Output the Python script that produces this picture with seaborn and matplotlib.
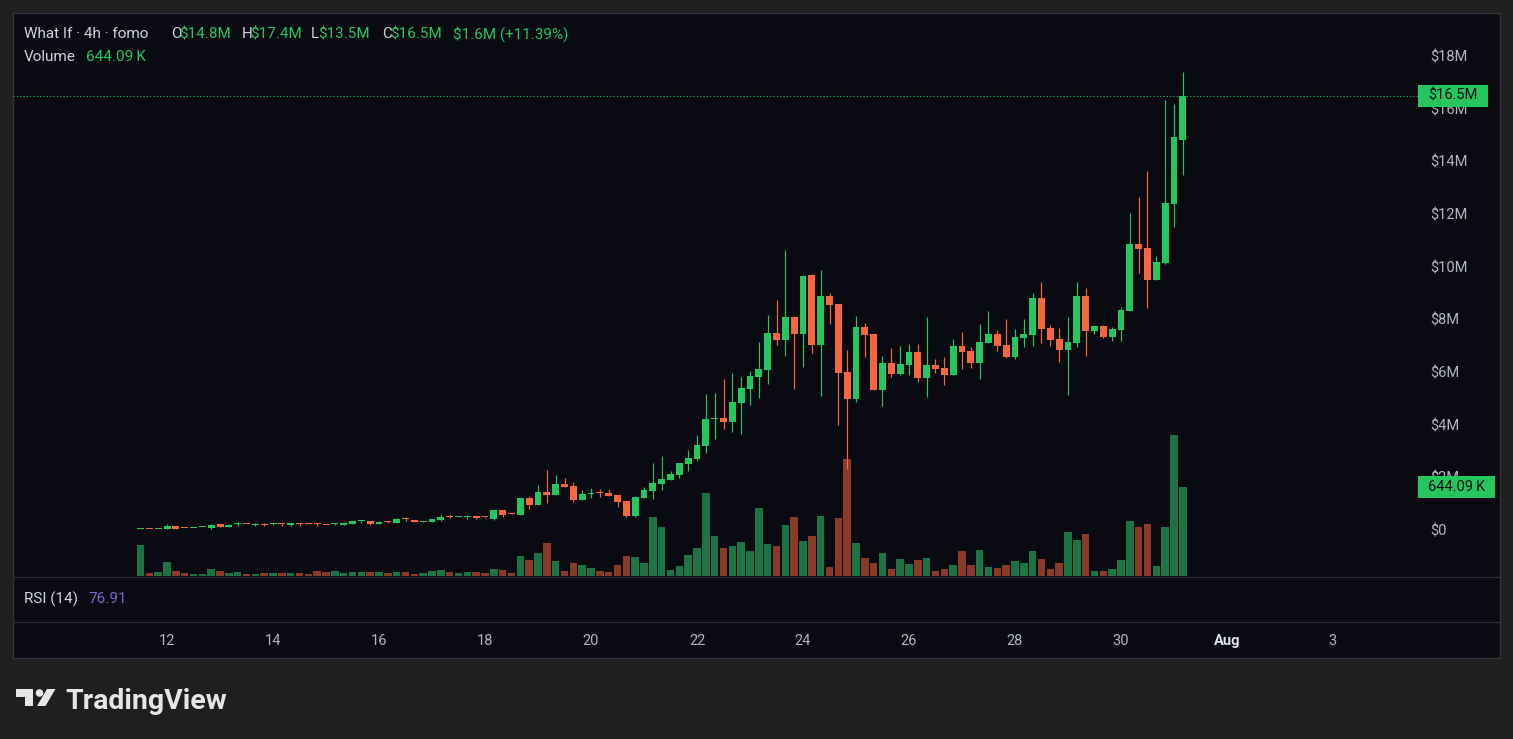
import numpy as np
import pandas as pd
import matplotlib
matplotlib.use("Agg")
import matplotlib.pyplot as plt
import seaborn as sns
from matplotlib.patches import Rectangle, Polygon, Circle

# ---------------- data ----------------
first_candle_day = 11.5          # July 11, 12:00
candle_hours = 4

opens = [
    0.035, 0.035, 0.03, 0.025, 0.152, 0.08, 0.072, 0.11, 0.089, 0.215,
    0.127, 0.235, 0.235, 0.198, 0.208, 0.222, 0.232, 0.177, 0.232, 0.232,
    0.22, 0.195, 0.222, 0.203, 0.24, 0.325, 0.329, 0.24, 0.31, 0.278,
    0.425, 0.38, 0.32, 0.316, 0.38, 0.5, 0.5, 0.5, 0.532, 0.485,
    0.418, 0.76, 0.625, 0.57, 1.228, 0.95, 1.443, 1.342, 1.747, 1.671,
    1.139, 1.38, 1.42, 1.418, 1.329, 1.089, 0.544, 1.228, 1.494, 1.76,
    1.899, 2.089, 2.519, 2.697, 3.19, 4.22, 4.266, 4.102, 4.836, 5.355,
    5.811, 6.077, 7.482, 7.216, 8.09, 7.444, 9.685, 7.026, 8.887, 8.583,
    6.001, 4.975, 7.71, 7.444, 5.317, 6.343, 5.925, 6.267, 6.76, 5.773,
    6.267, 6.153, 5.887, 6.988, 6.798, 6.343, 7.102, 7.444, 7.026, 6.57,
    7.292, 7.406, 8.811, 7.672, 7.254, 6.836, 7.102, 8.887, 7.558, 7.748,
    7.33, 7.596, 8.318, 10.862, 10.71, 9.495, 10.14, 12.381, 14.8]

highs = [
    0.05, 0.04, 0.05, 0.228, 0.165, 0.09, 0.09, 0.125, 0.24, 0.23,
    0.21, 0.304, 0.24, 0.253, 0.253, 0.253, 0.266, 0.26, 0.253, 0.24,
    0.266, 0.2, 0.266, 0.285, 0.35, 0.354, 0.335, 0.325, 0.342, 0.456,
    0.456, 0.39, 0.335, 0.425, 0.57, 0.557, 0.52, 0.57, 0.54, 0.49,
    0.77, 0.77, 0.658, 1.266, 1.291, 1.709, 2.279, 2.089, 1.962, 1.81,
    1.519, 1.582, 1.544, 1.544, 1.34, 1.1, 1.304, 1.62, 2.532, 2.81,
    2.228, 2.55, 3.038, 3.608, 5.165, 5.19, 5.735, 5.975, 5.811, 6.039,
    7.14, 8.178, 8.735, 10.634, 8.128, 9.68, 9.723, 9.875, 9.001, 8.6,
    6.836, 8.128, 7.862, 7.45, 6.608, 6.912, 6.988, 7.064, 7.064, 8.09,
    6.494, 6.57, 7.254, 7.52, 6.95, 7.824, 8.318, 7.596, 8.014, 7.634,
    8.014, 9.001, 9.419, 7.786, 7.672, 8.09, 9.419, 9.191, 7.76, 7.786,
    7.7, 8.47, 12.04, 12.647, 13.635, 10.406, 16.331, 16.179, 17.4]

lows = [
    0.03, 0.025, 0.025, 0.025, 0.04, 0.06, 0.065, 0.105, 0.051, 0.12,
    0.12, 0.165, 0.215, 0.165, 0.165, 0.177, 0.165, 0.17, 0.165, 0.215,
    0.165, 0.18, 0.19, 0.2, 0.235, 0.278, 0.203, 0.235, 0.253, 0.27,
    0.354, 0.29, 0.315, 0.31, 0.354, 0.443, 0.49, 0.43, 0.418, 0.47,
    0.38, 0.506, 0.61, 0.56, 0.785, 0.94, 1.038, 1.33, 1.64, 1.051,
    1.13, 1.203, 1.241, 1.29, 0.861, 0.506, 0.481, 1.22, 1.19, 1.519,
    1.89, 1.962, 2.253, 2.621, 2.937, 3.443, 3.848, 3.735, 3.659, 4.76,
    5.026, 5.532, 7.026, 6.608, 5.355, 6.191, 6.722, 5.089, 7.824, 3.988,
    2.317, 4.861, 6.57, 5.3, 4.709, 5.811, 5.9, 5.887, 5.621, 5.051,
    5.963, 5.507, 5.88, 6.115, 6.153, 5.735, 7.09, 6.798, 6.55, 6.494,
    6.95, 6.988, 7.102, 6.988, 6.38, 5.127, 6.95, 6.608, 7.444, 7.3,
    7.178, 7.178, 8.3, 9.761, 8.431, 9.49, 10.1, 11.508, 13.5]

closes = [
    0.04, 0.03, 0.04, 0.152, 0.051, 0.076, 0.08, 0.118, 0.203, 0.127,
    0.203, 0.245, 0.225, 0.208, 0.198, 0.232, 0.222, 0.253, 0.222, 0.222,
    0.21, 0.185, 0.232, 0.278, 0.342, 0.335, 0.228, 0.316, 0.298, 0.418,
    0.41, 0.304, 0.33, 0.418, 0.506, 0.49, 0.51, 0.51, 0.456, 0.475,
    0.76, 0.57, 0.615, 1.228, 0.95, 1.443, 1.342, 1.747, 1.646, 1.139,
    1.367, 1.393, 1.408, 1.304, 1.076, 0.544, 1.253, 1.519, 1.798, 1.937,
    2.127, 2.545, 2.747, 3.228, 4.216, 4.24, 4.102, 4.861, 5.393, 5.849,
    6.115, 7.482, 7.216, 8.09, 7.444, 9.647, 7.026, 8.887, 8.545, 5.963,
    4.975, 7.71, 7.406, 5.317, 6.343, 5.925, 6.305, 6.76, 5.773, 6.267,
    6.115, 5.887, 6.988, 6.76, 6.343, 7.14, 7.444, 6.988, 6.57, 7.33,
    7.444, 8.811, 7.634, 7.216, 6.836, 7.14, 8.887, 7.558, 7.748, 7.33,
    7.634, 8.356, 10.862, 10.672, 9.495, 10.179, 12.419, 14.926, 16.5]

volumes_k = [
    224, 22, 29, 101, 36, 22, 14, 14, 51, 36,
    22, 29, 14, 14, 22, 22, 22, 22, 22, 14,
    36, 29, 36, 22, 29, 29, 29, 29, 22, 29,
    29, 14, 22, 36, 43, 29, 22, 29, 29, 22,
    51, 43, 22, 145, 116, 166, 239, 109, 36, 94,
    80, 58, 36, 29, 80, 145, 138, 94, 427, 355,
    43, 72, 152, 203, 601, 289, 203, 217, 246, 181,
    492, 232, 217, 369, 427, 253, 289, 434, 65, 420,
    847, 239, 130, 94, 166, 51, 123, 87, 116, 130,
    36, 51, 80, 181, 80, 188, 65, 58, 80, 109,
    94, 181, 123, 51, 94, 318, 261, 304, 36, 36,
    51, 116, 398, 355, 376, 72, 355, 1020, 644.09]

day_ticks = [12, 14, 16, 18, 20, 22, 24, 26, 28, 30, 32, 34]
day_labels = ["12", "14", "16", "18", "20", "22", "24", "26", "28", "30", "Aug", "3"]
price_ticks = [0, 2, 4, 6, 8, 10, 12, 14, 16, 18]
price_labels = ["$0", "$2M", "$4M", "$6M", "$8M", "$10M", "$12M", "$14M", "$16M", "$18M"]

header_title = "What If · 4h · fomo"
last_change = "$1.6M (+11.39%)"
rsi_value = "76.91"

# ---------------- style ----------------
sns.set_theme(style="dark")
plt.rcParams["font.family"] = ["Roboto", "DejaVu Sans"]

W, H = 1513, 739
OUTER = "#1f1f1f"
PANEL = "#0a0a12"
GREEN = "#26c65f"
RED = "#f7673b"
VGREEN = "#1c7343"
VRED = "#8a3a27"
TXT = "#d1d4dc"
AX_TXT = "#b2b5be"

fig = plt.figure(figsize=(W / 100, H / 100), dpi=100, facecolor=OUTER)


def fax(x0, y0, x1, y1):
    return [x0 / W, 1 - y1 / H, (x1 - x0) / W, (y1 - y0) / H]


# background panel
bg = fig.add_axes([0, 0, 1, 1], zorder=-10)
bg.set_xlim(0, W)
bg.set_ylim(H, 0)
bg.axis("off")
bg.add_patch(Rectangle((13, 13), 1487, 645, facecolor=PANEL, edgecolor="#34343c", lw=1))
bg.hlines([576.5, 621.5], 13, 1500, colors="#2a2a33", lw=1)

# x coordinates (days) of each candle
n = len(opens)
t = np.array([first_candle_day + i * candle_hours / 24 for i in range(n)])
o = np.array(opens)
h = np.array(highs)
l = np.array(lows)
c = np.array(closes)
up = c >= o

XMIN, XMAX = 9.094, 35.604
YMIN, YMAX = -1.747, 19.635
VMAX = 4074.4

# volume pane (overlay)
vax = fig.add_axes(fax(13, 13, 1418, 576), zorder=1)
vax.patch.set_visible(False)
df = pd.DataFrame({"t": t, "vol": volumes_k, "dir": np.where(up, "up", "down")})
sns.barplot(data=df, x="t", y="vol", hue="dir", palette={"up": VGREEN, "down": VRED},
            native_scale=True, dodge=False, width=0.86, legend=False,
            errorbar=None, saturation=1, linewidth=0, ax=vax)
vax.set_xlim(XMIN, XMAX)
vax.set_ylim(0, VMAX)
vax.axis("off")

# price pane
ax = fig.add_axes(fax(13, 13, 1418, 576), zorder=2)
ax.patch.set_visible(False)
cols = np.where(up, GREEN, RED)
ax.vlines(t, l, h, colors=cols, lw=0.85)
body_b = np.minimum(o, c)
body_h = np.maximum(np.abs(c - o), 0.04)
ax.bar(t, body_h, bottom=body_b, width=0.79 / 6, color=cols, linewidth=0)
ax.axhline(closes[-1], color=GREEN, linestyle=(0, (1, 2)), lw=0.8)
ax.set_xlim(XMIN, XMAX)
ax.set_ylim(YMIN, YMAX)
ax.grid(False)
for s in ax.spines.values():
    s.set_visible(False)
ax.set_xticks([])
ax.yaxis.tick_right()
ax.set_yticks(price_ticks)
ax.set_yticklabels(price_labels)
ax.tick_params(axis="y", length=0, pad=8.6, labelcolor=AX_TXT, labelsize=10.5)
ax.set_xlabel("")
ax.set_ylabel("")

# overlay for labels
ov = fig.add_axes([0, 0, 1, 1], zorder=20)
ov.set_xlim(0, W)
ov.set_ylim(H, 0)
ov.axis("off")

FS = 10.5
HFS = 11
# header
ov.text(24, 34, header_title, color=TXT, fontsize=HFS, va="center")
pieces = [(171, "O", TXT), (179, "$%.1fM" % opens[-1], GREEN),
          (242, "H", TXT), (250, "$%.1fM" % highs[-1], GREEN),
          (311, "L", TXT), (318, "$%.1fM" % lows[-1], GREEN),
          (382, "C", TXT), (390, "$%.1fM" % closes[-1], GREEN),
          (453, last_change, GREEN)]
for x, s, col in pieces:
    ov.text(x, 34, s, color=col, fontsize=HFS, va="center")
ov.text(24, 57, "Volume", color=TXT, fontsize=HFS, va="center")
ov.text(86, 57, "%.2f\u2009K" % volumes_k[-1], color=GREEN, fontsize=HFS, va="center")

# RSI pane label
ov.text(24, 599, "RSI (14)", color=TXT, fontsize=HFS, va="center")
ov.text(88, 599, rsi_value, color="#8062cc", fontsize=HFS, va="center")

# time axis labels
for d, lab in zip(day_ticks, day_labels):
    xp = ax.transData.transform((d, 0))[0]
    ov.text(xp, 641, lab, color=("#e0e3eb" if lab == "Aug" else AX_TXT),
            fontsize=FS, ha="center", va="center",
            fontweight=("bold" if lab == "Aug" else "normal"))

# last price box
yp = H - ax.transData.transform((0, closes[-1]))[1]
ov.add_patch(Rectangle((1418, yp - 11), 70, 22, facecolor=GREEN, edgecolor="none"))
ov.text(1428, yp, "$%.1fM" % closes[-1], color="#0c0f14", fontsize=FS, va="center")

# last volume box
yv = H - vax.transData.transform((0, volumes_k[-1]))[1]
ov.add_patch(Rectangle((1418, yv - 11), 77, 22, facecolor=GREEN, edgecolor="none"))
ov.text(1428, yv, "%.2f\u2009K" % volumes_k[-1], color="#0c0f14", fontsize=FS, va="center")

# TradingView logo
LOGO = "#e6e6e6"
ov.add_patch(Rectangle((16, 689), 17, 8, facecolor=LOGO, edgecolor="none"))
ov.add_patch(Rectangle((25, 689), 8, 17, facecolor=LOGO, edgecolor="none"))
ov.add_patch(Circle((39.5, 693), 3.8, facecolor=LOGO, edgecolor="none"))
ov.add_patch(Polygon([(37, 706), (45.5, 706), (55.5, 689), (47, 689)], closed=True,
                     facecolor=LOGO, edgecolor="none"))
ov.text(65, 709, "TradingView", color=LOGO, fontsize=20.5, fontweight="bold", va="baseline")

fig.savefig("out.png", dpi=100, facecolor=OUTER)
